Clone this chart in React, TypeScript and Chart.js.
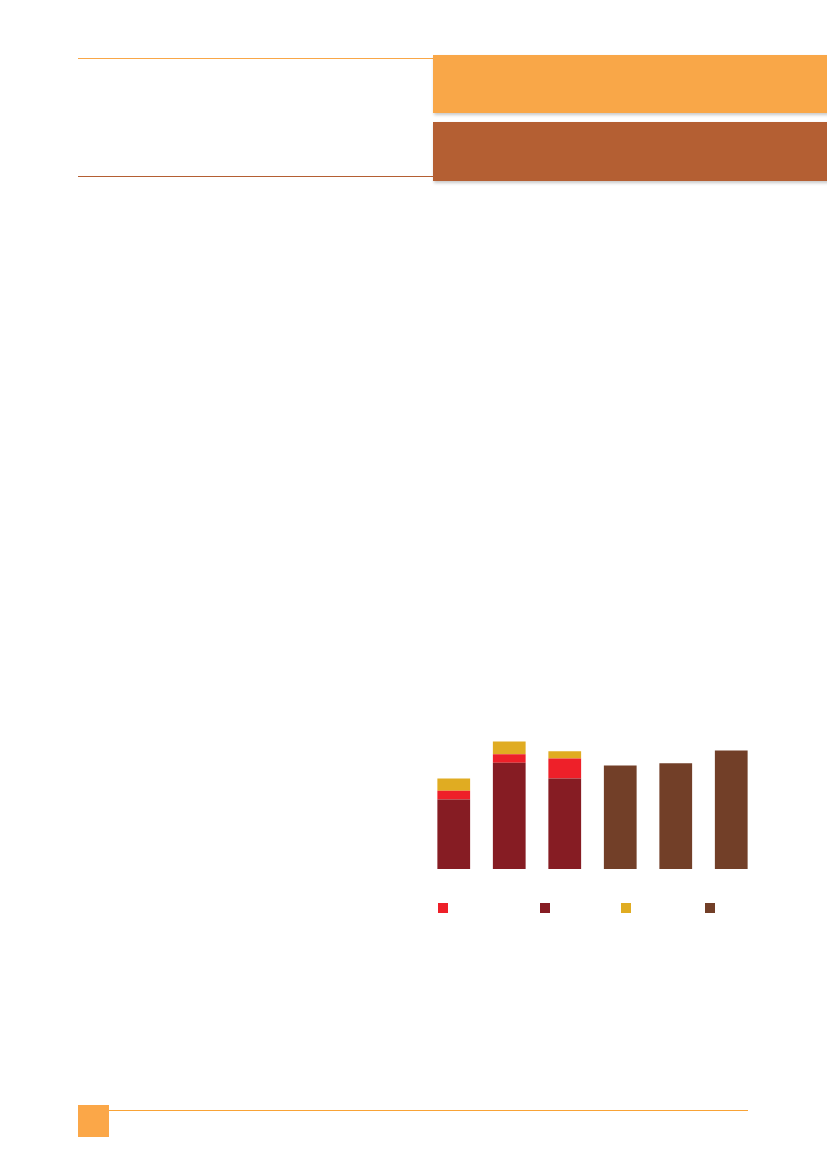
import React, { useEffect, useRef } from "react";
import { Chart, registerables } from "chart.js";

Chart.register(...registerables);

const categories = ["1", "2", "3", "4", "5", "6"];
const seriesDarkRed = [69.5, 106.2, 90.5, null, null, null];
const seriesRed = [8.7, 8.6, 20, null, null, null];
const seriesYellow = [12.3, 12.7, 7.3, null, null, null];
const seriesBrown = [null, null, null, 103.5, 105.8, 118.5];
const yMax = 140;

const COLORS = {
  darkRed: "#861C23",
  red: "#EE2029",
  yellow: "#E0AC22",
  brown: "#723F28",
};

const legendItems = [
  { color: COLORS.red, left: 438 },
  { color: COLORS.darkRed, left: 540 },
  { color: COLORS.yellow, left: 621 },
  { color: COLORS.brown, left: 705 },
];

export default function App() {
  const ref = useRef<HTMLCanvasElement | null>(null);

  useEffect(() => {
    if (!ref.current) return;
    const chart = new Chart(ref.current, {
      type: "bar",
      data: {
        labels: categories,
        datasets: [
          { label: "a", data: seriesDarkRed, backgroundColor: COLORS.darkRed, borderWidth: 0 },
          { label: "b", data: seriesRed, backgroundColor: COLORS.red, borderWidth: 0 },
          { label: "c", data: seriesYellow, backgroundColor: COLORS.yellow, borderWidth: 0 },
          { label: "d", data: seriesBrown, backgroundColor: COLORS.brown, borderWidth: 0 },
        ],
      },
      options: {
        animation: false,
        responsive: false,
        maintainAspectRatio: false,
        layout: { padding: 0 },
        datasets: { bar: { categoryPercentage: 1, barPercentage: 0.59 } },
        plugins: { legend: { display: false }, tooltip: { enabled: false } },
        scales: {
          x: { stacked: true, display: false },
          y: { stacked: true, display: false, min: 0, max: yMax },
        },
      },
    });
    return () => chart.destroy();
  }, []);

  return (
    <div
      style={{
        position: "absolute",
        left: 0,
        top: 0,
        width: 827,
        height: 1169,
        overflow: "hidden",
        background: "#fff",
      }}
    >
      {/* header lines */}
      <div style={{ position: "absolute", left: 78, top: 57.5, width: 356, height: 1.2, background: "#F9A748" }} />
      <div style={{ position: "absolute", left: 78, top: 176, width: 356, height: 1.2, background: "#B45F33" }} />
      {/* banners */}
      <div
        style={{
          position: "absolute",
          left: 433,
          top: 54.5,
          width: 400,
          height: 58.5,
          background: "#F9A748",
          boxShadow: "1px 2px 3px rgba(0,0,0,0.22)",
        }}
      />
      <div
        style={{
          position: "absolute",
          left: 433,
          top: 122,
          width: 400,
          height: 58.5,
          background: "#B45F33",
          boxShadow: "1px 2px 3px rgba(0,0,0,0.22)",
        }}
      />
      {/* chart */}
      <canvas
        ref={ref}
        width={333}
        height={140}
        style={{ position: "absolute", left: 426, top: 728.5, width: 333, height: 140 }}
      />
      {/* legend */}
      {legendItems.map((it, i) => (
        <div
          key={i}
          style={{ position: "absolute", left: it.left, top: 903, width: 10, height: 10, background: it.color }}
        />
      ))}
      {/* footer */}
      <div style={{ position: "absolute", left: 78, top: 1105, width: 31, height: 32, background: "#FBA748" }} />
      <div style={{ position: "absolute", left: 109, top: 1109.7, width: 639, height: 1.2, background: "#F9A336" }} />
    </div>
  );
}
